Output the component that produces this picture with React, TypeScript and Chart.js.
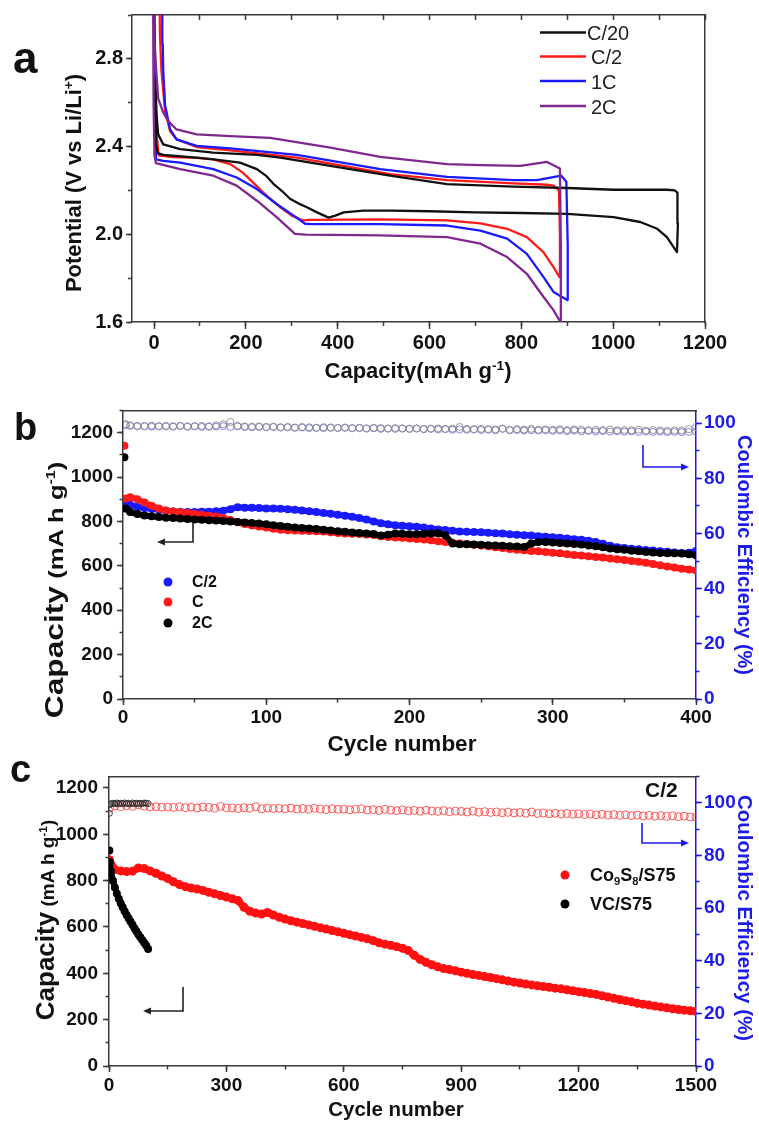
import React, { useEffect, useRef } from 'react';
import { Chart, registerables } from 'chart.js';

Chart.register(...registerables);

const FONT = '"Liberation Sans", Arial, Helvetica, sans-serif';
const PAGE_W = 759;
const PAGE_H = 1121;
const AXIS = '#3a3a3a';
const CE_BLUE = '#1c1ce6';

// ---------------- Panel a : voltage profiles ----------------
const rateLabelsA = ['C/20', 'C/2', '1C', '2C'];
const rateColorsA = ['#111111', '#ff1a1a', '#1a1aff', '#80288f'];

const capC20 = [2, 3, 5, 8, 20, 60, 93, 130, 187, 224, 245, 260, 280, 296, 315, 333, 355, 380, 395, 413, 456, 514, 600, 700, 800, 900, 1001, 1059, 1096, 1117, 1132, 1139, 1141, 1140, 1134, 1117, 1001, 900, 783, 638, 514, 384, 275, 224, 129, 57, 20, 9, 5, 3];
const voltC20 = [2.72, 2.5, 2.4, 2.37, 2.362, 2.355, 2.35, 2.342, 2.327, 2.297, 2.265, 2.23, 2.195, 2.162, 2.14, 2.123, 2.1, 2.076, 2.085, 2.1, 2.108, 2.108, 2.105, 2.1, 2.097, 2.093, 2.078, 2.056, 2.025, 1.987, 1.94, 1.919, 2.05, 2.19, 2.2, 2.203, 2.203, 2.211, 2.217, 2.229, 2.267, 2.312, 2.35, 2.362, 2.372, 2.388, 2.41, 2.456, 2.56, 2.72];

const capC2 = [0, 3, 6, 10, 40, 93, 129, 166, 194, 238, 275, 300, 325, 340, 493, 638, 711, 769, 812, 848, 870, 883, 884, 882, 870, 856, 783, 638, 514, 311, 166, 93, 49, 35, 24, 16, 13, 12];
const voltC2 = [3.05, 2.7, 2.45, 2.36, 2.352, 2.348, 2.342, 2.32, 2.28, 2.19, 2.123, 2.085, 2.063, 2.066, 2.068, 2.063, 2.05, 2.025, 1.987, 1.919, 1.85, 1.805, 2.0, 2.2, 2.222, 2.226, 2.232, 2.247, 2.274, 2.35, 2.383, 2.398, 2.433, 2.47, 2.561, 2.75, 2.9, 3.05];

const cap1C = [1, 3, 4, 20, 57, 129, 180, 224, 267, 304, 329, 345, 493, 638, 711, 769, 812, 848, 870, 900, 901, 898, 887, 834, 783, 638, 493, 311, 166, 93, 49, 35, 24, 20, 19, 18];
const volt1C = [3.05, 2.6, 2.342, 2.335, 2.327, 2.297, 2.259, 2.206, 2.138, 2.085, 2.048, 2.046, 2.046, 2.04, 2.017, 1.98, 1.911, 1.806, 1.737, 1.7, 1.95, 2.24, 2.267, 2.247, 2.247, 2.262, 2.297, 2.362, 2.392, 2.403, 2.433, 2.478, 2.59, 2.75, 2.865, 3.05];

const cap2C = [-2, -1, 1, 4, 57, 129, 180, 224, 267, 307, 330, 493, 638, 711, 769, 812, 848, 870, 885, 886, 884, 856, 798, 711, 638, 493, 384, 253, 166, 93, 49, 31, 20, 9, 3, -3];
const volt2C = [3.05, 2.6, 2.36, 2.325, 2.297, 2.267, 2.222, 2.153, 2.078, 2.002, 1.998, 1.995, 1.987, 1.957, 1.896, 1.82, 1.715, 1.654, 1.6, 1.95, 2.3, 2.33, 2.312, 2.315, 2.32, 2.353, 2.395, 2.44, 2.448, 2.456, 2.478, 2.516, 2.555, 2.62, 2.8, 3.05];

// ---------------- Panel b : rate cycling ----------------
const rateLabelsB = ['C/2', 'C', '2C'];
const rateColorsB = ['#1a1aff', '#ff1a1a', '#000000'];

const cyclesB = [2, 5, 10, 15, 20, 25, 30, 35, 40, 45,
  50, 55, 60, 65, 70, 75, 80, 85, 90, 95,
  100, 105, 110, 115, 120, 125, 130, 135, 140, 145,
  150, 155, 160, 165, 170, 175, 180, 185, 190, 195,
  200, 205, 210, 215, 220, 225, 230, 235, 240, 245,
  250, 255, 260, 265, 270, 275, 280, 285, 290, 295,
  300, 305, 310, 315, 320, 325, 330, 335, 340, 345,
  350, 355, 360, 365, 370, 375, 380, 385, 390, 395,
  400];

const capHalfC = [885, 875, 865, 860, 857, 852, 848, 845, 843, 842,
  842, 843, 844, 846, 848, 855, 864, 862, 862, 860,
  858, 858, 857, 855, 852, 849, 846, 842, 838, 834,
  830, 826, 821, 815, 808, 800, 792, 787, 783, 780,
  778, 776, 772, 768, 764, 761, 758, 755, 753, 752,
  751, 749, 747, 745, 742, 740, 738, 736, 733, 731,
  729, 726, 723, 720, 717, 713, 707, 699, 690, 684,
  680, 677, 674, 671, 669, 666, 663, 660, 658, 659,
  667];

const capOneC = [903, 909, 900, 885, 870, 858, 849, 845, 842, 838,
  834, 830, 826, 822, 815, 806, 796, 788, 782, 777,
  772, 767, 762, 760, 759, 758, 757, 756, 754, 751,
  748, 746, 744, 743, 741, 739, 733, 730, 728, 726,
  723, 721, 718, 715, 711, 707, 704, 701, 698, 695,
  692, 688, 684, 680, 676, 672, 670, 667, 665, 662,
  659, 656, 652, 649, 646, 643, 640, 637, 633, 629,
  626, 622, 618, 614, 608, 602, 597, 592, 587, 583,
  579];

const capTwoC = [858, 842, 833, 827, 823, 820, 817, 815, 813, 811,
  809, 807, 805, 804, 802, 800, 797, 795, 793, 790,
  787, 783, 779, 776, 773, 770, 768, 766, 762, 759,
  756, 753, 750, 748, 746, 743, 737, 740, 745, 744,
  742, 742, 744, 746, 747, 738, 700, 697, 697, 696,
  695, 693, 692, 690, 688, 687, 685, 700, 707, 707,
  705, 703, 700, 698, 696, 692, 688, 683, 678, 675,
  672, 668, 665, 662, 660, 658, 657, 656, 655, 652,
  648];

const firstCycleB = [1];
const firstCapOneC = [1141];
const firstCapTwoC = [1089];

const ceGrayB = [99.6, 99.2, 99.0, 98.9, 99.1, 98.8, 99.0, 98.9, 99.0, 98.8,
  98.9, 99.0, 98.7, 99.2, 99.6, 100.4, 99.0, 98.8, 98.7, 98.8,
  98.6, 98.7, 98.5, 98.6, 98.4, 98.6, 98.5, 98.3, 98.5, 98.4,
  98.3, 98.4, 98.2, 98.3, 98.1, 98.3, 98.2, 98.0, 98.2, 98.1,
  98.0, 98.1, 97.9, 98.0, 98.1, 97.9, 98.0, 98.6, 97.9, 97.8,
  97.9, 97.8, 97.7, 97.9, 97.6, 97.8, 97.7, 97.9, 97.6, 97.7,
  97.6, 97.8, 97.5, 97.7, 97.6, 97.4, 97.6, 97.5, 97.7, 97.4,
  97.5, 97.4, 97.6, 97.3, 97.5, 97.4, 97.2, 97.4, 97.3, 97.8,
  98.6];

const ceBlueB = [99.3, 99.0, 98.8, 98.9, 98.7, 98.9, 98.8, 98.7, 98.9, 98.7,
  98.8, 98.6, 98.8, 98.7, 98.9, 98.6, 98.8, 98.6, 98.5, 98.6,
  98.5, 98.6, 98.4, 98.5, 98.3, 98.4, 98.2, 98.3, 98.2, 98.3,
  98.2, 98.3, 98.1, 98.2, 98.0, 98.1, 97.9, 98.0, 97.9, 98.0,
  97.9, 98.0, 97.8, 97.9, 97.7, 97.8, 97.6, 97.7, 97.6, 97.7,
  97.5, 97.6, 97.4, 98.0, 97.4, 97.5, 97.3, 97.4, 97.3, 97.4,
  97.2, 97.3, 97.1, 97.3, 97.0, 97.2, 97.0, 97.1, 96.9, 97.0,
  96.9, 97.0, 96.8, 96.9, 96.8, 96.9, 96.7, 96.8, 96.7, 96.8,
  96.9];

// ---------------- Panel c : long cycling at C/2 ----------------
const materialsC = ['Co9S8/S75', 'VC/S75'];
const materialColorsC = ['#ff1111', '#000000'];

const cyclesC = [1, 15, 30, 45, 60, 75, 90, 105, 120, 135,
  150, 165, 180, 195, 210, 225, 240, 255, 270, 285,
  300, 315, 330, 345, 360, 375, 390, 405, 420, 435,
  450, 465, 480, 495, 510, 525, 540, 555, 570, 585,
  600, 615, 630, 645, 660, 675, 690, 705, 720, 735,
  750, 765, 780, 795, 810, 825, 840, 855, 870, 885,
  900, 915, 930, 945, 960, 975, 990, 1005, 1020, 1035,
  1050, 1065, 1080, 1095, 1110, 1125, 1140, 1155, 1170, 1185,
  1200, 1215, 1230, 1245, 1260, 1275, 1290, 1305, 1320, 1335,
  1350, 1365, 1380, 1395, 1410, 1425, 1440, 1455, 1470, 1485,
  1500];

const capCo9S8 = [890, 848, 842, 839, 841, 855, 852, 842, 832, 820,
  809, 795, 783, 774, 768, 764, 758, 750, 743, 736,
  729, 722, 714, 685, 668, 660, 656, 663, 652, 642,
  634, 627, 621, 615, 609, 603, 597, 591, 585, 579,
  573, 567, 561, 555, 549, 541, 532, 526, 521, 515,
  508, 498, 478, 460, 448, 437, 428, 421, 416, 411,
  405, 400, 395, 391, 386, 382, 377, 372, 367, 362,
  358, 354, 350, 346, 343, 340, 336, 333, 329, 325,
  321, 317, 313, 309, 303, 298, 292, 287, 282, 277,
  271, 267, 263, 259, 255, 251, 247, 244, 241, 238,
  236];

const ceCo9S8 = [98.0, 98.8, 98.5, 98.9, 98.6, 99.2, 98.7, 98.4, 98.5, 98.3,
  98.4, 98.2, 98.5, 98.1, 98.3, 98.0, 98.4, 98.2, 97.9, 98.6,
  98.1, 98.0, 97.8, 98.1, 97.9, 98.5, 97.7, 98.0, 97.8, 97.9,
  97.7, 98.0, 97.6, 97.8, 97.5, 97.9, 97.6, 97.4, 97.7, 97.5,
  97.6, 97.3, 97.5, 97.7, 97.2, 97.4, 97.1, 97.5, 97.2, 97.0,
  97.3, 96.9, 97.1, 96.8, 97.2, 96.9, 96.7, 97.0, 96.6, 96.8,
  96.7, 96.5, 96.8, 96.4, 96.6, 96.3, 96.5, 96.2, 96.4, 96.1,
  96.3, 96.0, 96.5, 95.9, 96.1, 95.8, 96.0, 95.7, 95.9, 95.6,
  95.8, 95.5, 95.7, 95.4, 95.6, 95.3, 95.5, 95.2, 95.4, 95.1,
  95.3, 95.0, 95.2, 94.9, 95.1, 94.8, 95.0, 94.7, 94.9, 94.6,
  94.5];

const cyclesVC = [2, 5, 10, 15, 20, 25, 30, 35, 40, 45, 50, 55, 60, 65, 70, 75, 80, 85, 90, 95, 100];
const capVC = [880, 840, 800, 770, 745, 722, 703, 685, 668, 652, 638, 624, 610, 595, 582, 568, 556, 544, 532, 520, 505];
const ceVC = [99.3, 99.6, 99.8, 99.7, 99.9, 99.6, 99.8, 99.7, 99.9, 99.7, 99.8, 99.6, 99.9, 99.7, 99.8, 99.6, 99.8, 99.7, 99.9, 99.8, 99.7];
const firstCycleVC = [1];
const firstCapVC = [930];
const firstCeVC = [96.0];

// ---------------- helpers ----------------
function pts(xs: number[], ys: number[]) {
  return xs.map((x, i) => ({ x, y: ys[i] }));
}

// axis ticks on every multiple of `step` inside the axis range
function onStep(step: number) {
  return (scale: any) => {
    const lo = Math.ceil(scale.min / step - 1e-9);
    const hi = Math.floor(scale.max / step + 1e-9);
    const t: any[] = [];
    for (let k = lo; k <= hi; k++) t.push({ value: Math.round(k * step * 1e6) / 1e6 });
    scale.ticks = t;
  };
}

function sizeTo(pos: string, size: number) {
  return (scale: any) => {
    if (pos === 'top' || pos === 'bottom') scale.height = size;
    else scale.width = size;
  };
}

interface AxSpec {
  pos: string; min: number; max: number; major: number; minor?: number; size: number;
  color: string; labelColor?: string; tick: number; minorTick?: number; pad?: number;
  font?: number; labels?: boolean; fmt?: (v: number) => string;
}

function makeAxes(id: string, s: AxSpec) {
  const out: Record<string, any> = {};
  out[id] = {
    type: 'linear', position: s.pos, min: s.min, max: s.max, weight: 1,
    grid: { display: s.tick !== 0, drawOnChartArea: false, drawTicks: true, tickLength: s.tick, tickWidth: 1.5, tickColor: s.color, color: s.color },
    border: { display: true, color: s.color, width: 1.5 },
    ticks: {
      display: s.labels !== false, stepSize: s.major, autoSkip: false, maxRotation: 0, minRotation: 0,
      maxTicksLimit: 1000, padding: s.pad ?? 3, color: s.labelColor ?? '#111',
      font: { family: FONT, size: s.font ?? 19, weight: 'bold' },
      callback: (v: number) => (s.fmt ? s.fmt(v) : String(Math.round(v))),
    },
    afterBuildTicks: onStep(s.major),
    afterFit: sizeTo(s.pos, s.size),
  };
  if (s.minor) {
    out[id + 'm'] = {
      type: 'linear', position: s.pos, min: s.min, max: s.max, weight: 0,
      grid: { display: true, drawOnChartArea: false, drawTicks: true, tickLength: s.minorTick ?? 3.5, tickWidth: 1.5, tickColor: s.color, color: s.color },
      border: { display: false },
      ticks: { display: false, stepSize: s.minor, autoSkip: false, maxTicksLimit: 1000 },
      afterBuildTicks: onStep(s.minor),
      afterFit: sizeTo(s.pos, 0),
    };
  }
  return out;
}

function baseOptions(scales: any) {
  return {
    responsive: false,
    animation: false,
    events: [],
    layout: { padding: 0, autoPadding: false },
    plugins: { legend: { display: false }, tooltip: { enabled: false } },
    scales,
  };
}

function curve(xs: number[], ys: number[], color: string, order: number) {
  return {
    data: pts(xs, ys), showLine: true, borderColor: color, backgroundColor: color,
    borderWidth: 2.3, pointRadius: 0, tension: 0, order, xAxisID: 'x', yAxisID: 'y',
    borderJoinStyle: 'round',
  };
}

function band(xs: number[], ys: number[], color: string, order: number, width = 6, r = 4) {
  return {
    data: pts(xs, ys), showLine: true, borderColor: color, backgroundColor: color,
    borderWidth: width, pointRadius: r, pointBorderWidth: 0, pointBackgroundColor: color,
    borderJoinStyle: 'round', borderCapStyle: 'round', order, xAxisID: 'x', yAxisID: 'y',
  };
}

function dots(xs: number[], ys: number[], color: string, order: number, r = 4) {
  return {
    data: pts(xs, ys), showLine: false, pointRadius: r, pointBorderWidth: 0,
    pointBackgroundColor: color, backgroundColor: color, borderColor: color, order, xAxisID: 'x', yAxisID: 'y',
  };
}

function rings(xs: number[], ys: number[], color: string, order: number, r = 3.5) {
  return {
    data: pts(xs, ys), showLine: false, pointRadius: r, pointBorderWidth: 1,
    pointBorderColor: color, borderColor: color, pointBackgroundColor: 'rgba(0,0,0,0)',
    backgroundColor: 'rgba(0,0,0,0)', order, xAxisID: 'x', yAxisID: 'yr',
  };
}

const makeA = () => ({
  type: 'scatter',
  data: {
    datasets: [
      curve(capC20, voltC20, rateColorsA[0], 1),
      curve(capC2, voltC2, rateColorsA[1], 3),
      curve(cap1C, volt1C, rateColorsA[2], 2),
      curve(cap2C, volt2C, rateColorsA[3], 0),
    ],
  },
  options: baseOptions({
    ...makeAxes('x', { pos: 'bottom', min: -48, max: 1200, major: 200, minor: 100, size: 73, color: AXIS, tick: 7, minorTick: 4, pad: 2, font: 20 }),
    ...makeAxes('y', { pos: 'left', min: 1.6, max: 3.0, major: 0.4, minor: 0.2, size: 132, color: AXIS, tick: 6, minorTick: 4, pad: 3, font: 20, fmt: (v) => v.toFixed(1) }),
    ...makeAxes('xt', { pos: 'top', min: -48, max: 1200, major: 100, size: 14, color: AXIS, tick: -5, labels: false }),
    ...makeAxes('yt', { pos: 'right', min: 1.6, max: 3.0, major: 0.2, size: 54, color: AXIS, tick: 0, labels: false }),
  }),
});

const makeB = () => ({
  type: 'scatter',
  data: {
    datasets: [
      band(cyclesB, capTwoC, rateColorsB[2], 0),
      band(cyclesB, capOneC, rateColorsB[1], 1),
      band(cyclesB, capHalfC, rateColorsB[0], 2),
      dots(firstCycleB, firstCapOneC, rateColorsB[1], 3),
      dots(firstCycleB, firstCapTwoC, rateColorsB[2], 3),
      rings(cyclesB, ceBlueB, 'rgba(110,110,220,0.85)', 5),
      rings(cyclesB, ceGrayB, 'rgba(140,140,140,0.9)', 4),
    ],
  },
  options: baseOptions({
    ...makeAxes('x', { pos: 'bottom', min: 0, max: 400, major: 100, minor: 50, size: 61, color: AXIS, tick: 6, minorTick: 3.5, pad: 1.5, font: 19 }),
    ...makeAxes('y', { pos: 'left', min: 0, max: 1300, major: 200, minor: 100, size: 123, color: AXIS, tick: 6, minorTick: 3.5, pad: 4, font: 19 }),
    ...makeAxes('yr', { pos: 'right', min: 0, max: 104.6, major: 20, minor: 10, size: 63, color: CE_BLUE, labelColor: CE_BLUE, tick: 6, minorTick: 3.5, pad: 2, font: 19 }),
    ...makeAxes('xt', { pos: 'top', min: 0, max: 400, major: 100, size: 14, color: AXIS, tick: 0, labels: false }),
  }),
});

const makeC = () => ({
  type: 'scatter',
  data: {
    datasets: [
      band(cyclesVC, capVC, materialColorsC[1], 0, 6, 4),
      dots(firstCycleVC, firstCapVC, materialColorsC[1], 0),
      band(cyclesC, capCo9S8, materialColorsC[0], 1, 7, 4.5),
      rings(cyclesVC, ceVC, 'rgba(40,40,40,0.9)', 2, 3),
      rings(firstCycleVC, firstCeVC, 'rgba(40,40,40,0.9)', 2, 3),
      rings(cyclesC, ceCo9S8, 'rgba(255,60,60,0.85)', 3, 4),
    ],
  },
  options: baseOptions({
    ...makeAxes('x', { pos: 'bottom', min: 0, max: 1500, major: 300, minor: 150, size: 55, color: AXIS, tick: 6, minorTick: 3.5, pad: 2, font: 19 }),
    ...makeAxes('y', { pos: 'left', min: 0, max: 1250, major: 200, minor: 100, size: 109, color: AXIS, tick: 6, minorTick: 3.5, pad: 5, font: 19 }),
    ...makeAxes('yr', { pos: 'right', min: 0, max: 110, major: 20, minor: 10, size: 63, color: CE_BLUE, labelColor: CE_BLUE, tick: 6, minorTick: 3.5, pad: 2, font: 19 }),
    ...makeAxes('xt', { pos: 'top', min: 0, max: 1500, major: 300, size: 9, color: AXIS, tick: 0, labels: false }),
  }),
});

// ---------------- components ----------------
function ChartCanvas({ top, height, make }: { top: number; height: number; make: () => any }) {
  const ref = useRef<HTMLCanvasElement | null>(null);
  useEffect(() => {
    if (!ref.current) return;
    const chart = new Chart(ref.current, make());
    return () => chart.destroy();
  }, []);
  return (
    <canvas
      ref={ref}
      width={PAGE_W}
      height={height}
      style={{ position: 'absolute', left: 0, top, width: PAGE_W, height }}
    />
  );
}

const Sup = ({ children }: any) => (
  <span style={{ fontSize: '0.62em', position: 'relative', top: '-0.62em', lineHeight: 0 }}>{children}</span>
);
const Sub = ({ children }: any) => (
  <span style={{ fontSize: '0.62em', position: 'relative', top: '0.32em', lineHeight: 0 }}>{children}</span>
);

function HText({ x, y, size, bold = true, color = '#111', center = false, children }: any) {
  return (
    <div
      style={{
        position: 'absolute', left: x, top: y - 0.8465 * size, fontSize: size, lineHeight: `${size}px`,
        fontWeight: bold ? 700 : 400, color, whiteSpace: 'nowrap',
        transform: center ? 'translateX(-50%)' : undefined,
      }}
    >
      {children}
    </div>
  );
}

function RText({ cx, cy, size, rot, color = '#111', stretch = 1, children }: any) {
  return (
    <div style={{ position: 'absolute', left: cx, top: cy, width: 0, height: 0 }}>
      <div
        style={{
          position: 'absolute', left: 0, top: 0, fontSize: size, lineHeight: `${size}px`, fontWeight: 700,
          color, whiteSpace: 'nowrap',
          transform: `translate(-50%, -50%) rotate(${rot}deg) scaleX(${stretch})`,
        }}
      >
        {children}
      </div>
    </div>
  );
}

function Arrow({ path, head, dir, color }: { path: string; head: [number, number]; dir: 'left' | 'right'; color: string }) {
  const [hx, hy] = head;
  const back = dir === 'left' ? hx + 8 : hx - 8;
  return (
    <g>
      <polyline points={path} fill="none" stroke={color} strokeWidth={1.6} />
      <polygon points={`${hx},${hy} ${back},${hy - 3.5} ${back},${hy + 3.5}`} fill={color} />
    </g>
  );
}

const legendAYs = [32.5, 56.5, 81, 106];
const legendBYs = [582, 602, 623];
const legendCYs = [875, 904];

export default function App() {
  return (
    <div
      style={{
        position: 'absolute', left: 0, top: 0, width: PAGE_W, height: PAGE_H,
        background: '#fff', fontFamily: FONT, overflow: 'hidden',
      }}
    >
      <ChartCanvas top={0} height={395} make={makeA} />
      <ChartCanvas top={395} height={365} make={makeB} />
      <ChartCanvas top={760} height={361} make={makeC} />

      <svg
        width={PAGE_W}
        height={PAGE_H}
        style={{ position: 'absolute', left: 0, top: 0, pointerEvents: 'none' }}
      >
        {legendAYs.map((y, i) => (
          <line key={i} x1={540} x2={586} y1={y} y2={y} stroke={rateColorsA[i]} strokeWidth={2.5} />
        ))}
        {legendBYs.map((y, i) => (
          <circle key={i} cx={168} cy={y} r={4.5} fill={rateColorsB[i]} />
        ))}
        {legendCYs.map((y, i) => (
          <circle key={i} cx={565} cy={y} r={4.5} fill={materialColorsC[i]} />
        ))}
        <Arrow path="193,523 193,542 164,542" head={[157, 542]} dir="left" color="#222" />
        <Arrow path="643,445 643,467 682,467" head={[689, 467]} dir="right" color={CE_BLUE} />
        <Arrow path="183,987 183,1011 150,1011" head={[143, 1011]} dir="left" color="#222" />
        <Arrow path="642,823 642,843 682,843" head={[689, 843]} dir="right" color={CE_BLUE} />
      </svg>

      {/* panel a */}
      <HText x={13} y={73} size={44}>a</HText>
      <RText cx={74} cy={183} size={22} rot={-90}>
        Potential (V vs Li/Li<Sup>+</Sup>)
      </RText>
      <HText x={418} y={379} size={22} center>
        Capacity(mAh g<Sup>-1</Sup>)
      </HText>
      <HText x={587} y={40} size={20} bold={false} color="#222">{rateLabelsA[0]}</HText>
      <HText x={591} y={64} size={20} bold={false} color="#222">{rateLabelsA[1]}</HText>
      <HText x={591} y={88.5} size={20} bold={false} color="#222">{rateLabelsA[2]}</HText>
      <HText x={591} y={113.5} size={20} bold={false} color="#222">{rateLabelsA[3]}</HText>

      {/* panel b */}
      <HText x={14} y={440} size={38}>b</HText>
      <RText cx={55} cy={590} size={21} rot={-90} stretch={1.22}>
        <span style={{ fontSize: 26 }}>Capacity</span> (mA h g<Sup>-1</Sup>)
      </RText>
      <RText cx={745} cy={555} size={20} rot={90} color={CE_BLUE}>
        Coulombic Efficiency (%)
      </RText>
      <HText x={402} y={752} size={22.5} center>Cycle number</HText>
      {legendBYs.map((y, i) => (
        <HText key={i} x={192} y={y + 6} size={16}>{rateLabelsB[i]}</HText>
      ))}

      {/* panel c */}
      <HText x={10} y={782} size={38}>c</HText>
      <RText cx={46} cy={920} size={19} rot={-90}>
        <span style={{ fontSize: 26 }}>Capacity</span> (mA h g<Sup>-1</Sup>)
      </RText>
      <RText cx={745} cy={918} size={20.5} rot={90} color={CE_BLUE}>
        Coulombic Efficiency (%)
      </RText>
      <HText x={396} y={1116} size={20.5} center>Cycle number</HText>
      <HText x={645} y={797} size={21}>C/2</HText>
      <HText x={590} y={legendCYs[0] + 6.5} size={18}>
        Co<Sub>9</Sub>S<Sub>8</Sub>/S75
      </HText>
      <HText x={590} y={legendCYs[1] + 6.5} size={18}>{materialsC[1]}</HText>
    </div>
  );
}
